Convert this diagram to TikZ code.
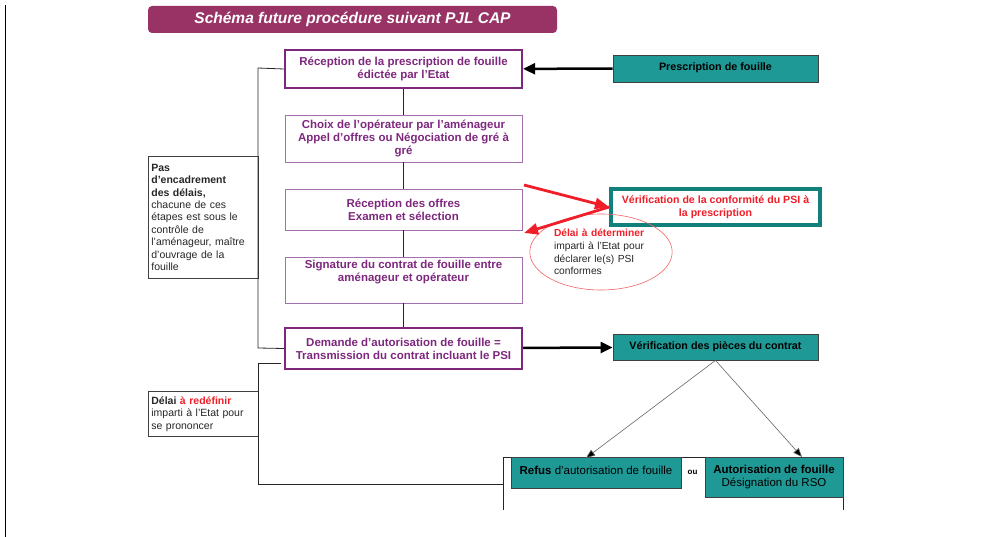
\documentclass[tikz,border=0pt]{standalone}
\usepackage{fontspec}
\setmainfont{Liberation Sans}
\usetikzlibrary{arrows.meta,positioning,shapes.geometric}

\definecolor{titre}{RGB}{153,51,102}
\definecolor{violet}{RGB}{125,40,125}
\definecolor{violetclair}{RGB}{165,110,175}
\definecolor{sarcelle}{RGB}{31,153,150}
\definecolor{sarcellefonce}{RGB}{18,128,122}
\definecolor{rouge}{RGB}{240,30,40}
\definecolor{rougeclair}{RGB}{240,100,100}

\tikzset{
  etape/.style={draw=violetclair, line width=0.8pt, text=violet,
    font=\fontsize{11.5}{13}\selectfont\bfseries, align=center,
    minimum width=237pt, inner sep=2pt},
  etapefort/.style={etape, draw=violet, line width=2.2pt},
  controle/.style={draw=black!75, line width=0.8pt, fill=sarcelle,
    font=\fontsize{11.5}{13.5}\selectfont, align=center, inner sep=2pt},
  remarque/.style={draw=black!75, line width=0.8pt, text=black!85,
    font=\fontsize{10.5}{12.4}\selectfont, align=left, text width=104pt,
    inner xsep=3pt, inner ysep=4pt, anchor=north west},
  lien/.style={line width=0.8pt, black!85},
  fleche/.style={line width=2.5pt, -{Triangle[length=12pt,width=11pt]}},
  flecherouge/.style={line width=2.8pt, rouge, -{Triangle[length=14pt,width=11pt]}},
  choix/.style={line width=0.6pt, black!60, -{Triangle[length=9pt,width=7pt,fill=black]}},
}

\begin{document}
\begin{tikzpicture}[x=1pt,y=-1pt]
  \useasboundingbox (0,0) rectangle (985,537);
  \draw[line width=1pt] (5,5) -- (5,537);

  % titre
  \node[fill=titre, rounded corners=4pt, minimum width=409pt, minimum height=27pt,
    text=white, font=\fontsize{15.5}{17}\selectfont\bfseries\itshape] (Titre) at (352.5,19.5)
    {Schéma future procédure suivant PJL CAP};

  % etapes
  \node[etapefort, minimum height=38pt] (Reception) at (403.5,69)
    {Réception de la prescription de fouille\\édictée par l’Etat};
  \node[etape, minimum height=47pt] (ChoixOperateur) at (403.5,138.5)
    {Choix de l’opérateur par l’aménageur\\Appel d’offres ou Négociation de gré à\\gré};
  \node[etape, minimum height=41pt] (ReceptionOffres) at (403.5,209.5)
    {Réception des offres\\Examen et sélection};
  \node[etape, minimum height=46pt] (Signature) at (403.5,280)
    {Signature du contrat de fouille entre\\aménageur et opérateur\\[6pt]};
  \node[etapefort, minimum height=41pt] (Demande) at (403.5,348.5)
    {Demande d’autorisation de fouille =\\Transmission du contrat incluant le PSI};

  \draw[lien] (Reception) -- (ChoixOperateur);
  \draw[lien] (ChoixOperateur) -- (ReceptionOffres);
  \draw[lien] (ReceptionOffres) -- (Signature);
  \draw[lien] (Signature) -- (Demande);

  % remarques a gauche
  \node[remarque, minimum height=122pt] (PasDelai) at (148,156)
    {\textbf{Pas\\d’encadrement\\des délais,}\\chacune de ces\\étapes est sous le\\contrôle de\\l'aménageur, maître\\d'ouvrage de la\\fouille};
  \node[remarque, minimum height=45pt] (DelaiEtat) at (148,391)
    {\textbf{Délai \textcolor{rouge}{à redéfinir}}\\imparti à l'Etat pour\\se prononcer};

  \coordinate (BrasHaut) at (258,68);
  \coordinate (BrasBas) at (258,348);
  \draw[lien] (Reception.west) -- (BrasHaut) -- (BrasBas) -- (Demande.west);
  \coordinate (DebutDelai) at (281,363);
  \coordinate (CoinDelai) at (258,363);
  \coordinate (FinDelai) at (503,484);
  \draw[lien] (DebutDelai) -- (CoinDelai) |- (FinDelai);

  % controles de l'Etat
  \node[controle, minimum width=205pt, minimum height=27pt, font=\fontsize{10.75}{13}\selectfont\bfseries]
    (Prescription) at (715.5,68.5) {\raisebox{3pt}{Prescription de fouille}};
  \node[draw=sarcellefonce, line width=4pt, fill=white, text=rouge, align=center,
    minimum width=209pt, minimum height=36pt, font=\fontsize{10.6}{13}\selectfont\bfseries]
    (Conformite) at (715.5,207) {Vérification de la conformité du PSI à\\la prescription};
  \node[controle, minimum width=205pt, minimum height=26pt, font=\fontsize{10.75}{13}\selectfont\bfseries]
    (VerifPieces) at (715.5,347) {\raisebox{2pt}{Vérification des pièces du contrat}};

  \draw[fleche] (Prescription) -- (Reception);
  \draw[fleche] (Demande) -- (VerifPieces);

  \node[ellipse, draw=rougeclair, line width=0.6pt, minimum width=137pt, minimum height=76pt,
    text width=94pt, align=left, font=\fontsize{10.25}{12.6}\selectfont, text=black!85]
    (DelaiConformite) at (601,252)
    {\textcolor{rouge}{\textbf{Délai à déterminer}}\\imparti à l'Etat pour\\déclarer le(s) PSI\\conformes};

  \coordinate (DepartRouge) at (524,185);
  \coordinate (RetourRouge) at (524,233);
  \draw[flecherouge] (DepartRouge) -- (Conformite.west);
  \draw[flecherouge] (Conformite.west) -- (RetourRouge);

  % decision
  \coordinate (CadreGauche) at (503,510);
  \coordinate (CadreDroit) at (843,510);
  \draw[lien] (CadreGauche) |- (CadreDroit |- 0,457) -- (CadreDroit);
  \node[controle, minimum width=170pt, minimum height=31pt] (Refus) at (596,472.5)
    {\raisebox{5pt}{\textbf{Refus} d’autorisation de fouille}};
  \node[controle, minimum width=138pt, minimum height=40pt] (Autorisation) at (774,477)
    {\textbf{Autorisation de fouille}\\Désignation du RSO};
  \node[font=\fontsize{8}{9}\selectfont\bfseries] (Ou) at (692.5,472) {ou};

  \draw[choix] (VerifPieces.south) -- (586,458);
  \draw[choix] (VerifPieces.south) -- (802,457);
\end{tikzpicture}
\end{document}
